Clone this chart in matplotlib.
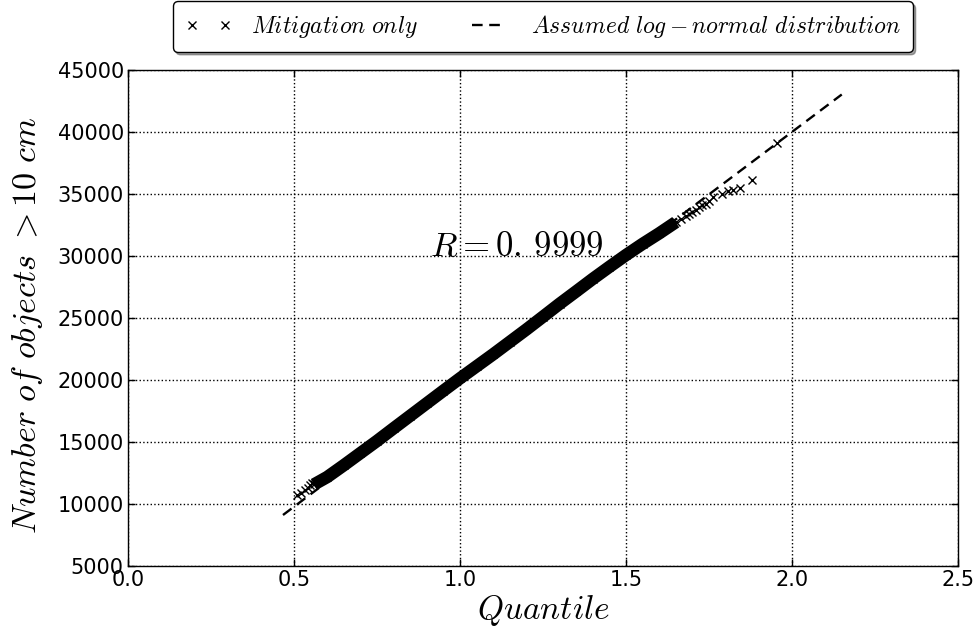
import matplotlib

matplotlib.use("Agg")

import matplotlib.pyplot as plt

plt.rcParams["mathtext.fontset"] = "cm"
plt.rcParams["font.family"] = "DejaVu Sans"

# dense body of the sorted sample (quantile, count)
q_body = [0.56, 0.60, 0.65, 0.70, 0.75, 0.80, 0.85, 0.90, 0.95, 1.00, 1.05, 1.10,
          1.15, 1.20, 1.25, 1.30, 1.35, 1.40, 1.45, 1.50, 1.55, 1.60, 1.65]
n_body = [11550, 12150, 13100, 14080, 15060, 16080, 17090, 18100, 19110, 20110, 21080, 22050,
          23050, 24050, 25080, 26120, 27120, 28130, 29100, 30050, 30950, 31800, 32700]

# sparse tails
q_low = [0.508, 0.520, 0.533, 0.541, 0.547, 0.553]
n_low = [10700, 10900, 11130, 11300, 11500, 11650]
q_high = [1.665, 1.68, 1.69, 1.70, 1.71, 1.72, 1.73, 1.74, 1.75, 1.763, 1.788,
          1.808, 1.823, 1.843, 1.881, 1.954]
n_high = [32950, 33200, 33380, 33550, 33720, 33900, 34050, 34200, 34450, 34710, 34980,
          35240, 35300, 35435, 36105, 39065]

# assumed log-normal reference line, end points
q_fit = [0.467, 2.15]
n_fit = [9090, 43000]

r_text = r"$R=0.\,9999$"

fig = plt.figure(figsize=(9.79, 6.37), dpi=100)
ax = fig.add_axes([0.1307, 0.1119, 0.9785 - 0.1307, 0.8906 - 0.1119])

q_all = q_low + q_body + q_high
n_all = n_low + n_body + n_high

ax.plot(q_body, n_body, color="k", lw=9, solid_capstyle="butt", zorder=2)
ax.plot(q_all, n_all, "x", color="k", ms=6, mew=1.0, zorder=3,
        label=r"$Mitigation\ only$")
ax.plot(q_fit, n_fit, "--", color="k", lw=1.7, dashes=(4.5, 2.8), zorder=4,
        label=r"$Assumed\ log-normal\ distribution$")

ax.text(0.91, 30000, r_text, fontsize=25, ha="left", va="baseline")

ax.set_xlim(0.0, 2.5)
ax.set_ylim(5000, 45000)
ax.set_xticks([0.0, 0.5, 1.0, 1.5, 2.0, 2.5])
ax.set_yticks(range(5000, 45001, 5000))
ax.grid(True, color="k", linestyle=":", linewidth=1.0)
ax.tick_params(direction="in", top=True, right=True, length=5, width=1,
               labelsize=15, pad=3)
for s in ax.spines.values():
    s.set_linewidth(1.0)

ax.set_xlabel(r"$Quantile$", fontsize=24, labelpad=2)
ax.set_ylabel(r"$Number\ of\ objects\ >10\ cm$", fontsize=24.5)
ax.yaxis.set_label_coords(-0.1, 0.484)

leg = ax.legend(loc="lower center", bbox_to_anchor=(0.5, 1.0), ncol=2,
                numpoints=2, fontsize=17, fancybox=True, shadow=True,
                frameon=True, borderaxespad=0.75, columnspacing=2.0,
                borderpad=0.5)
leg.get_frame().set_edgecolor("k")
leg.get_frame().set_alpha(1.0)

fig.savefig("out.png", dpi=100)
